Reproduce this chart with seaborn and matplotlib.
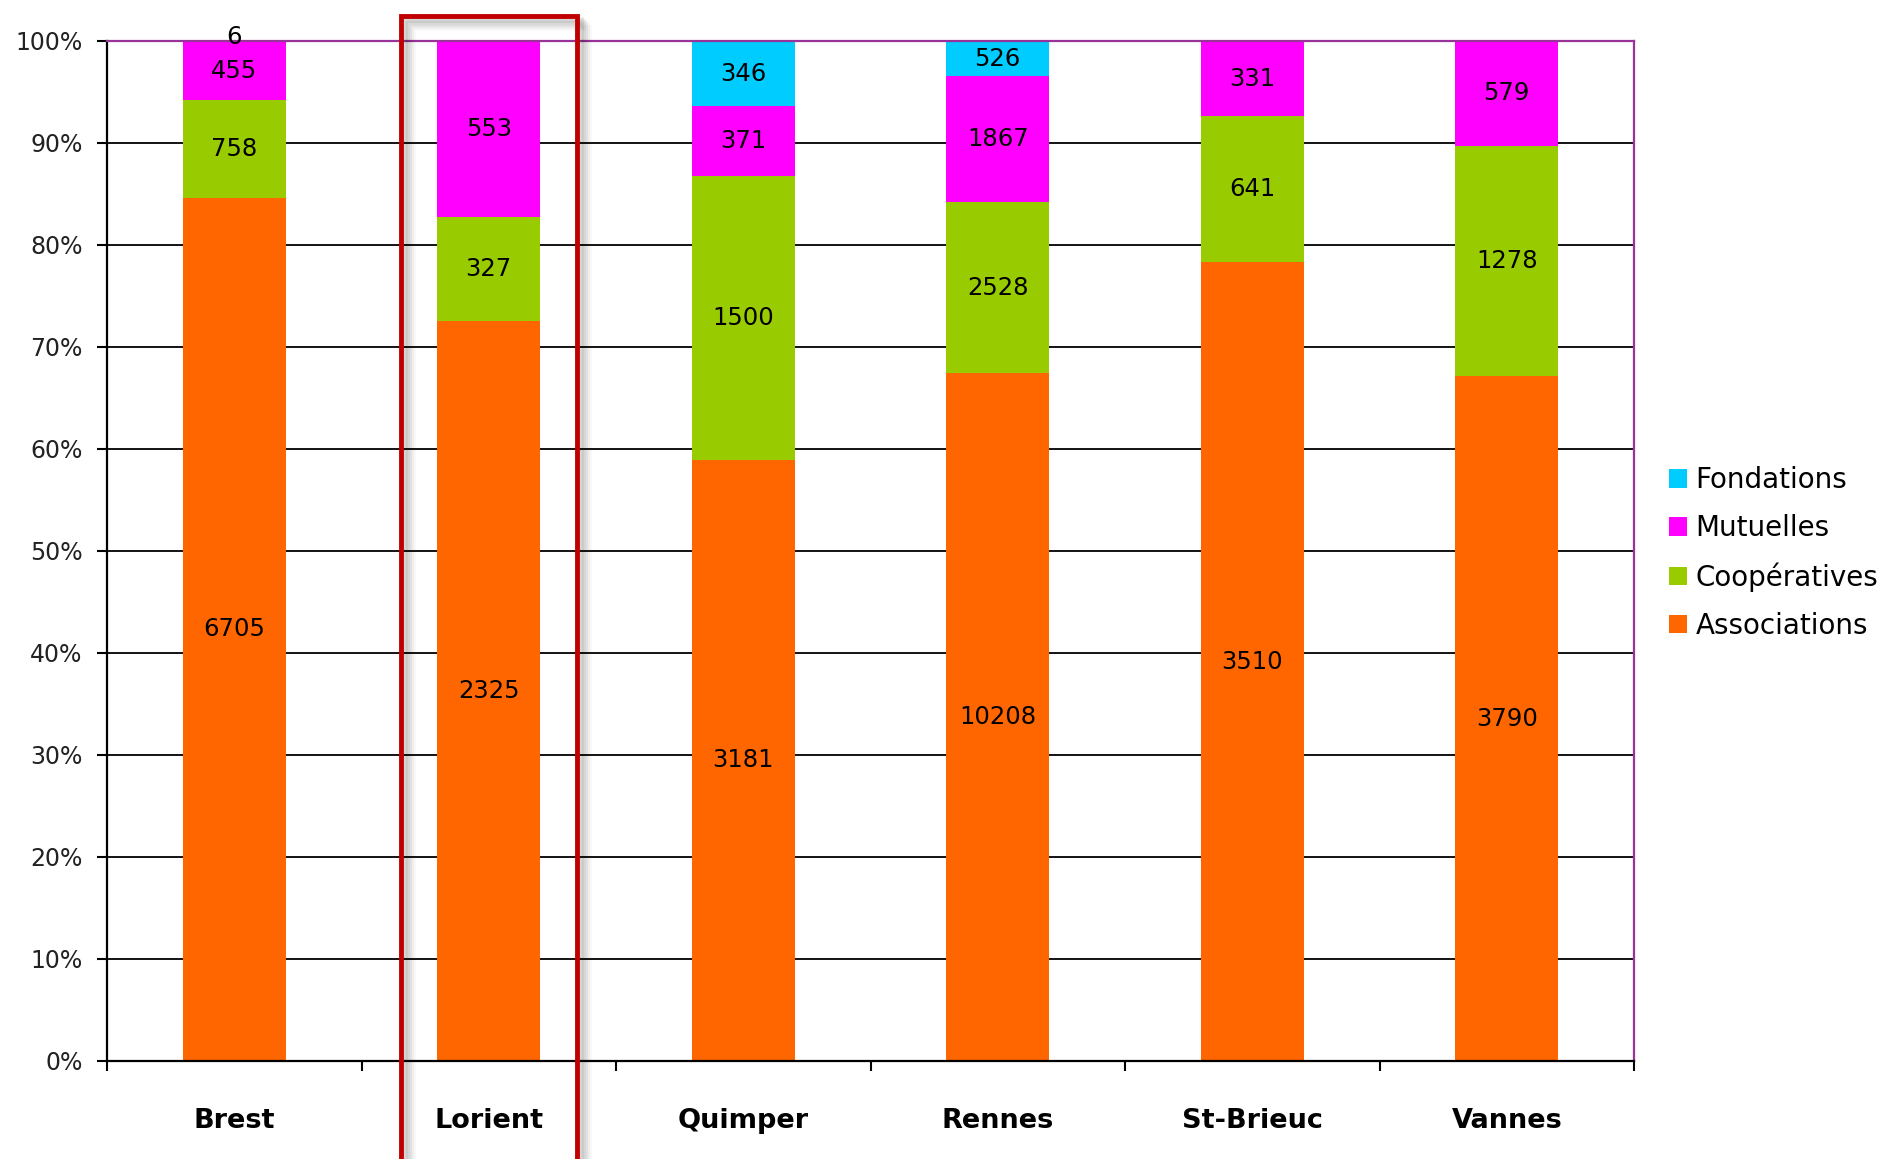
import numpy as np
import pandas as pd
import matplotlib
matplotlib.use("Agg")
import matplotlib.pyplot as plt
import seaborn as sns
from matplotlib.patches import Rectangle
from matplotlib.ticker import FixedLocator

cities = ["Brest", "Lorient", "Quimper", "Rennes", "St-Brieuc", "Vannes"]
associations = [6705, 2325, 3181, 10208, 3510, 3790]
cooperatives = [758, 327, 1500, 2528, 641, 1278]
mutuelles = [455, 553, 371, 1867, 331, 579]
fondations = [6, 0, 346, 526, 0, 0]

series_names = ["Associations", "Coopératives", "Mutuelles", "Fondations"]
series_colors = ["#FF6600", "#99CC00", "#FF00FF", "#00CCFF"]

sns.set_theme(style="white")
plt.rcParams["font.family"] = ["DejaVu Sans"]

vals = np.array([associations, cooperatives, mutuelles, fondations], dtype=float)
totals = vals.sum(axis=0)
pct = vals / totals * 100
cum = np.cumsum(pct, axis=0)

fig = plt.figure(figsize=(18.84, 11.59), dpi=100)
ax = fig.add_axes([107 / 1884, 1 - 1061 / 1159, (1634 - 107) / 1884, (1061 - 41) / 1159])

# gridlines behind
for y in range(10, 100, 10):
    ax.axhline(y, color="black", lw=1.3, zorder=0)

# layered stacked bars via seaborn (draw top cumulative first)
for i in reversed(range(4)):
    df = pd.DataFrame({"city": cities, "value": cum[i]})
    sns.barplot(data=df, x="city", y="value", color=series_colors[i],
                width=0.405, saturation=1, ax=ax, zorder=2, label=series_names[i],
                linewidth=0)

# value labels
for i in range(4):
    for j in range(len(cities)):
        if vals[i, j] <= 0:
            continue
        bottom = cum[i, j] - pct[i, j]
        yc = bottom + pct[i, j] / 2
        if pct[i, j] < 1:
            yc = 100.4
        ax.text(j, yc, f"{int(vals[i, j])}", ha="center", va="center",
                fontsize=17.5, color="black", zorder=5)

ax.set_xlim(-0.5, 5.5)
ax.set_ylim(0, 100)
ax.set_xlabel("")
ax.set_ylabel("")
ax.set_yticks(range(0, 101, 10))
ax.set_yticklabels([f"{v}%" for v in range(0, 101, 10)], fontsize=17, color="#222222")
ax.set_xticks(range(len(cities)))
ax.set_xticklabels(cities, fontsize=19.5, fontweight="bold", color="black")
ax.xaxis.set_minor_locator(FixedLocator(np.arange(-0.5, 6.0, 1.0)))
ax.tick_params(axis="x", which="major", length=0, pad=34)
ax.tick_params(axis="x", which="minor", length=7, width=1.5, color="black", direction="out", bottom=True)
ax.tick_params(axis="y", which="major", length=7, width=1.5, color="black", direction="out", left=True, pad=10.5)

for s in ["left", "bottom"]:
    ax.spines[s].set_color("black")
    ax.spines[s].set_linewidth(1.6)
for s in ["top", "right"]:
    ax.spines[s].set_color("#993399")
    ax.spines[s].set_linewidth(1.6)
    ax.spines[s].set_visible(True)

# legend
handles, labels = ax.get_legend_handles_labels()
if ax.get_legend() is not None:
    ax.get_legend().remove()
order = ["Fondations", "Mutuelles", "Coopératives", "Associations"]
hmap = dict(zip(labels, handles))
leg = fig.legend([hmap[o] for o in order], order, loc="center left",
                 bbox_to_anchor=(1658 / 1884, 1 - 553 / 1159), frameon=False,
                 fontsize=20, handlelength=0.65, handleheight=0.65,
                 handletextpad=0.3, labelspacing=0.72, borderaxespad=0)
for t in leg.get_texts():
    t.set_color("black")

# highlight rectangle around Lorient with shadow
for k, a in enumerate([0.10, 0.08, 0.06, 0.04, 0.03]):
    off = 4 + k * 2
    fig.patches.append(Rectangle((401 / 1884 + off / 1884, -0.01), 176 / 1884, (1159 - 16 - off) / 1159 + 0.01,
                                 transform=fig.transFigure, fill=False,
                                 edgecolor="black", lw=4, alpha=a, zorder=8))
fig.patches.append(Rectangle((401 / 1884, -0.01), 176 / 1884, (1159 - 16) / 1159 + 0.01,
                             transform=fig.transFigure, fill=False,
                             edgecolor="#C00000", lw=3.5, zorder=9))

fig.savefig("out.png", dpi=100)
